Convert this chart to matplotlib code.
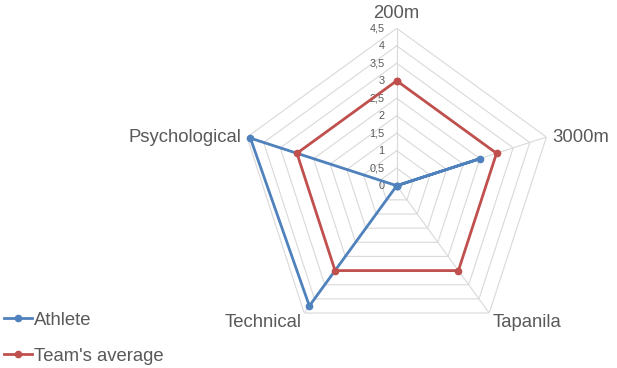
import numpy as np
import matplotlib
matplotlib.use("Agg")
import matplotlib.pyplot as plt

categories = ["200m", "3000m", "Tapanila", "Technical", "Psychological"]
athlete = [0, 2.5, 0, 4.25, 4.4]
team_avg = [3, 3, 3, 3, 3]
ring_values = [0, 0.5, 1, 1.5, 2, 2.5, 3, 3.5, 4, 4.5]
ring_labels = ["0", "0,5", "1", "1,5", "2", "2,5", "3", "3,5", "4", "4,5"]

plt.rcParams['font.family'] = ['Liberation Sans', 'DejaVu Sans']
TXT = "#595959"
GRID = "#D9D9D9"

fig = plt.figure(figsize=(6.17, 3.68), dpi=100)
ax = fig.add_axes([0.3879, 0.0677, 0.5102, 0.8554], projection='polar')
ax.set_theta_offset(np.pi / 2)
ax.set_theta_direction(-1)
ax.set_ylim(0, 4.5)
ax.grid(False)
ax.set_xticks([])
ax.set_yticks([])
ax.spines['polar'].set_visible(False)
ax.patch.set_alpha(0)

n = len(categories)
angles = np.arange(n) * 2 * np.pi / n
closed = np.append(angles, angles[0])

# polygon grid rings
for r in ring_values[1:]:
    ax.plot(closed, [r] * (n + 1), color=GRID, lw=0.8, zorder=1)
# spokes
for a in angles:
    ax.plot([a, a], [0, ring_values[-1]], color=GRID, lw=0.8, zorder=1)

# radial tick labels
for r, lab in zip(ring_values, ring_labels):
    ax.annotate(lab, xy=(0, r), xytext=(-12, 0), textcoords='offset pixels',
                ha='right', va='center', fontsize=7.8, color=TXT,
                annotation_clip=False)

# category labels
label_specs = [
    ((0, 6), 'center', 'bottom'),
    ((6, 0), 'left', 'center'),
    ((3, -1), 'left', 'top'),
    ((-3, -1), 'right', 'top'),
    ((-6, 0), 'right', 'center'),
]
for a, cat, (off, ha, va) in zip(angles, categories, label_specs):
    ax.annotate(cat, xy=(a, ring_values[-1]), xytext=off, textcoords='offset pixels',
                ha=ha, va=va, fontsize=13.3, color=TXT, annotation_clip=False)

ax.plot(closed, athlete + athlete[:1], color="#4F81BD", lw=2.0, marker='o',
        markersize=4.5, label="Athlete", zorder=3, clip_on=False)
ax.plot(closed, team_avg + team_avg[:1], color="#C0504D", lw=2.0, marker='o',
        markersize=4.5, label="Team's average", zorder=4, clip_on=False)

leg = fig.legend(loc='lower left', bbox_to_anchor=(-0.011, -0.021), frameon=False,
                 fontsize=13.3, handlelength=1.5, handletextpad=0.1,
                 labelspacing=1.02, borderaxespad=0.2)
for t in leg.get_texts():
    t.set_color(TXT)

fig.savefig("out.png", dpi=100)
